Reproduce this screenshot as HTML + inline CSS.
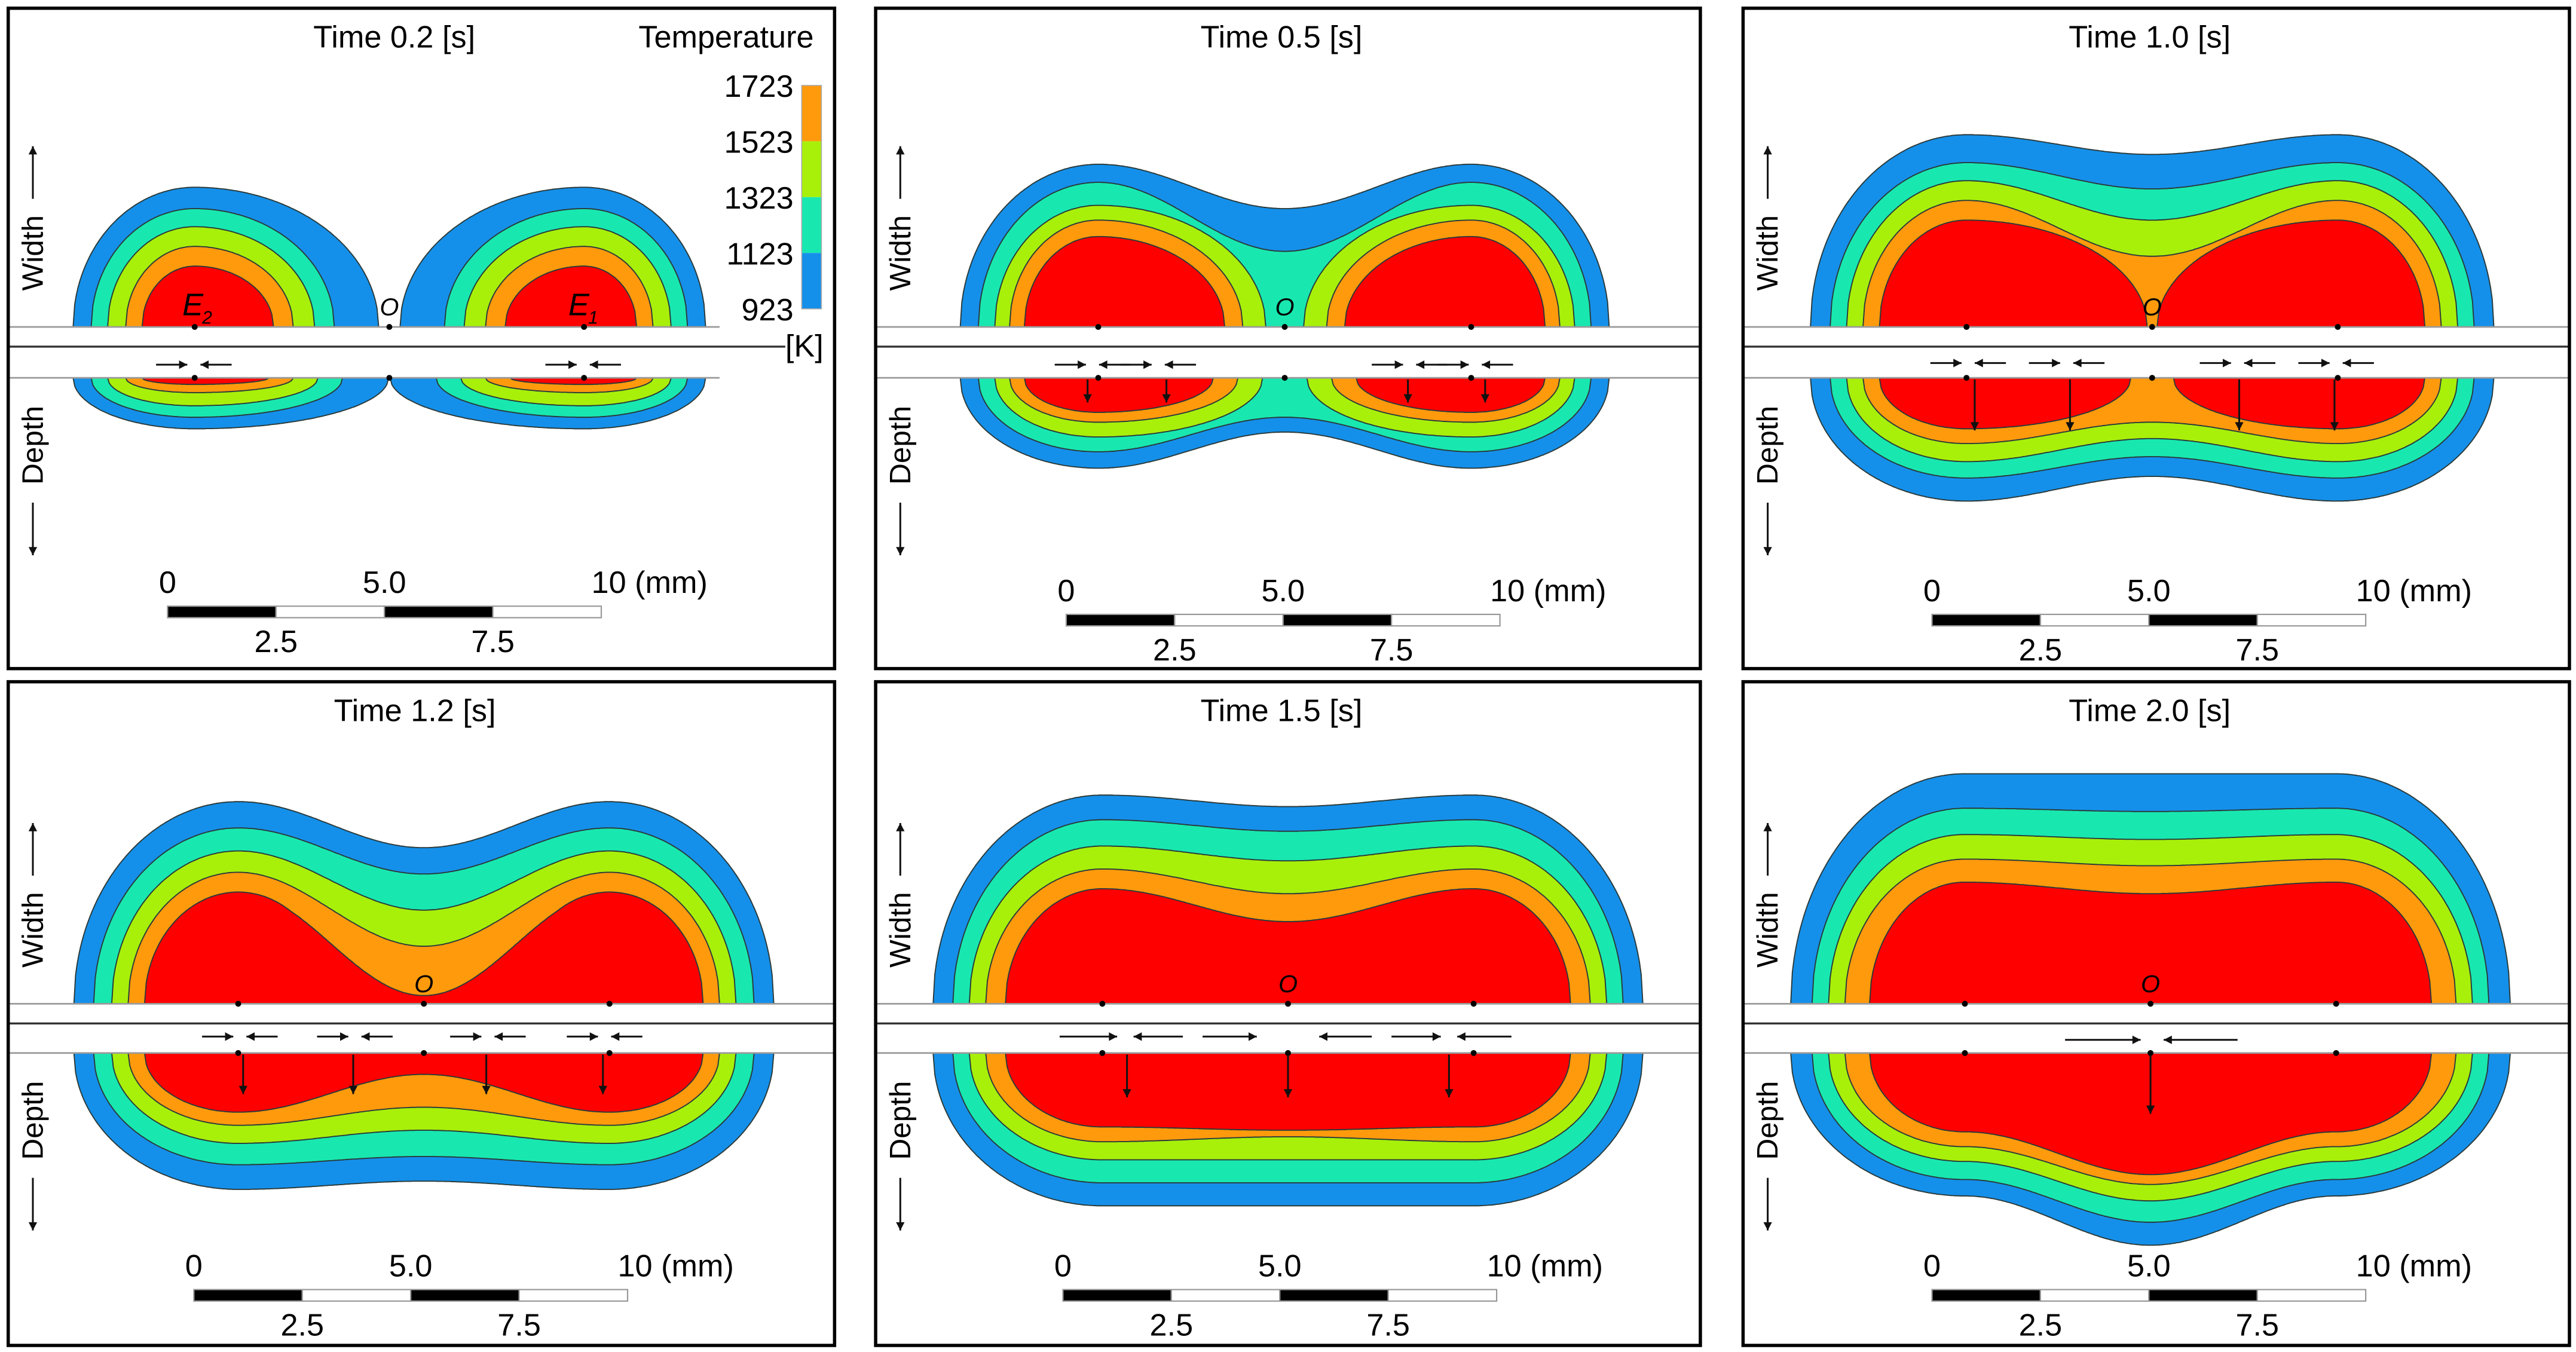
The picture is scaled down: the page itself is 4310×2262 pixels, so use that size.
<!DOCTYPE html>
<html><head><meta charset="utf-8"><style>
html,body{margin:0;padding:0;background:#fff;}
svg{display:block;font-family:"Liberation Sans",sans-serif;}
</style></head><body>
<svg id="fig" width="4310" height="2262" viewBox="0 0 1568 823" preserveAspectRatio="none" xmlns="http://www.w3.org/2000/svg"></svg>
<script>
// ---- data ----
const times = ["0.2","0.5","1.0","1.2","1.5","2.0"];
const levelTicks = ["1723","1523","1323","1123","923"];
const layerColors = ["#1590ea","#18e8b0","#a8f00a","#ff9a0c","#ff0000"];
// [outer reach a, height at electrode b, height at centre mid, inner reach ai (optional)]  (blue, cyan, green, orange, red)
const widthP1 = [[74,85,0,112],[63,72,-30,85],[53,61,-50,73],[42,49,-70,60],[32,37,-90,48]];
const widthP2 = [[84,99,72],[73,88,46],[63,74,-20,102],[54,65,-50,88],[45,55,-80,77]];
const widthP3 = [[95,117,105],[83,100,84],[73,89,65],[63,77,43],[53,65,-5,110]];
const widthP4 = [[100,123,95],[88,107,79],[77,93,57],[67,80,35],[57,68,5]];
const widthP5 = [[103,127,120],[91,112,105],[81,96,87],[71,82,67],[59,70,50]];
const widthP6 = [[106,140,140],[93,119,117],[83,103,100],[73,88,84],[58,74,67]];
const depthP1 = [[74,31,0,118],[63,24,-20,90],[53,17,-30,75],[42,9,-40,60],[32,4,-50,45]];
const depthP2 = [[84,55,33],[73,45,24],[63,36,-10,100],[54,27,-20,85],[45,21,-40,70]];
const depthP3 = [[95,75,60],[83,61,48],[73,51,37],[63,40,27],[53,31,-10,100]];
const depthP4 = [[100,83,78],[88,68,63],[77,55,47],[67,44,33],[57,36,13]];
const depthP5 = [[103,93,93],[91,79,79],[81,65,65],[71,54,51],[59,45,47]];
const depthP6 = [[106,87,117],[93,77,103],[83,66,90],[73,57,80],[58,48,74]];
const widthData = [widthP1,widthP2,widthP3,widthP4,widthP5,widthP6];
const depthData = [depthP1,depthP2,depthP3,depthP4,depthP5,depthP6];
const scaleLabels = ["0","5.0","10 (mm)"];
const scaleLabelsLow = ["2.5","7.5"];

// ---- layout ----
const NS="http://www.w3.org/2000/svg";
const svg=document.getElementById('fig');
const panels=[
 {x:5,y:5,w:503,h:402,O:237,d:118.5,ts:199,tm:211,tb:230,gy:222,bar:[102,369]},
 {x:533,y:5,w:502,h:402,O:782,d:113.5,ts:199,tm:211,tb:230,gy:222,bar:[649,374]},
 {x:1061,y:5,w:503,h:402,O:1310,d:113,ts:199,tm:211,tb:230,gy:221,bar:[1176,374]},
 {x:5,y:415,w:503,h:404,O:258,d:113,ts:611,tm:623,tb:641,gy:631,bar:[118,785]},
 {x:533,y:415,w:502,h:404,O:784,d:113,ts:611,tm:623,tb:641,gy:631,bar:[647,785]},
 {x:1061,y:415,w:503,h:404,O:1309,d:113,ts:611,tm:623,tb:641,gy:633,bar:[1176,785]}
];
const arrowsPairs=[[117,354],[664,704,857,897],[1197,1257,1361,1421],[145,215,296,367],[],[]];
const downArrows=[[],[[662,245],[710,245],[857,245],[904,245]],[[1202,262],[1260,262],[1363,262],[1421,262]],
 [[148,666],[215,666],[296,666],[367,666]],[[686,668],[784,668],[882,668]],[[1309,678]]];

function el(tag,attrs,parent){const e=document.createElementNS(NS,tag);for(const k in attrs)e.setAttribute(k,attrs[k]);(parent||svg).appendChild(e);return e;}
function hAt(x,p,L){const u=Math.abs(x-p.O);const a=L[0],b=L[1],mid=L[2];const ai=L[3]||(mid>0?a:a*1.5);let h=0;
 if(u>=p.d){const s=(u-p.d)/a;h=s<1?b*Math.sqrt(1-s*s):0;}
 else{const s=(p.d-u)/ai;const ell=s<1?b*Math.sqrt(1-s*s):0;let br=0;
  if(mid>0){const t=u/p.d;br=mid+(b-mid)*(1-Math.cos(Math.PI*t))/2;}
  h=Math.max(ell,br);}
 return Math.max(0,h);}
function contourPath(p,L,ys,dir){const x0=p.O-p.d-L[0],x1=p.O+p.d+L[0];let s=`M${x0.toFixed(1)},${ys}`;
 for(let x=x0;x<=x1;x+=1){s+=` L${x.toFixed(1)},${(ys+dir*hAt(x,p,L)).toFixed(1)}`;}
 s+=` L${x1.toFixed(1)},${ys} Z`;return s;}
function arrow(x1,y1,x2,y2,g){el('line',{x1,y1,x2,y2,stroke:'#111','stroke-width':1.1},g);
 const ang=Math.atan2(y2-y1,x2-x1),L=5,W=2.6;const ax=x2-L*Math.cos(ang),ay=y2-L*Math.sin(ang);
 el('polygon',{points:`${x2},${y2} ${ax-W*Math.sin(ang)},${ay+W*Math.cos(ang)} ${ax+W*Math.sin(ang)},${ay-W*Math.cos(ang)}`,fill:'#111'},g);}

panels.forEach((p,i)=>{
 const g=el('g',{});
 
 
 const lineEnd = i===0?438:p.x+p.w;
 [['width',widthData[i],p.ts,-1],['depth',depthData[i],p.tb,1]].forEach(([nm,layers,ys,dir])=>{
  layers.forEach((L,k)=>{
   const path=el('path',{d:contourPath(p,L,ys,dir),fill:layerColors[k],stroke:'#2a3a3a','stroke-width':0.7},g);
   
   
  });
 });
 el('line',{x1:p.x,y1:p.ts,x2:lineEnd,y2:p.ts,stroke:'#9a9a9a','stroke-width':1},g);
 el('line',{x1:p.x,y1:p.tm,x2:i===0?478:p.x+p.w,y2:p.tm,stroke:'#333','stroke-width':1.2},g);
 el('line',{x1:p.x,y1:p.tb,x2:lineEnd,y2:p.tb,stroke:'#9a9a9a','stroke-width':1},g);
 [p.O-p.d,p.O,p.O+p.d].forEach(x=>{el('circle',{cx:x,cy:p.ts,r:1.8,fill:'#000'},g);el('circle',{cx:x,cy:p.tb,r:1.8,fill:'#000'},g);});
 const o=el('text',{x:p.O,y:p.ts-7,'font-size':15,'font-style':'italic','text-anchor':'middle'},g);o.textContent='O';
 
 
 arrowsPairs[i].forEach(x=>{arrow(x-22,p.gy,x-3,p.gy,g);arrow(x+24,p.gy,x+5,p.gy,g);});
 if(i===4){[[645,680],[732,765],[847,877]].forEach(a=>arrow(a[0],p.gy,a[1],p.gy,g));[[720,690],[835,803],[920,887]].forEach(a=>arrow(a[0],p.gy,a[1],p.gy,g));}
 if(i===5){arrow(1257,p.gy,1303,p.gy,g);arrow(1362,p.gy,1317,p.gy,g);}
 downArrows[i].forEach(([x,y])=>arrow(x,p.tb+1,x,y,g));
 const fr=el('rect',{x:p.x,y:p.y,width:p.w,height:p.h,fill:'none',stroke:'#000','stroke-width':2},g);
 
 
 const t=el('text',{x:(i===0?240:p.x+p.w/2-4),y:p.y+24,'font-size':19,'text-anchor':'middle'},g);t.textContent='Time '+times[i]+' [s]';
 
 
 const ax=p.x+15;
 const wl=el('text',{x:0,y:0,'font-size':18,'text-anchor':'middle',transform:`translate(${ax+6},${p.ts-45}) rotate(-90)`},g);wl.textContent='Width';
 
 
 arrow(ax,p.ts-78,ax,p.ts-110,g);
 const dl=el('text',{x:0,y:0,'font-size':18,'text-anchor':'middle',transform:`translate(${ax+6},${p.tb+41}) rotate(-90)`},g);dl.textContent='Depth';
 
 
 arrow(ax,p.tb+76,ax,p.tb+108,g);
 const [bx,by]=p.bar;const seg=66;
 const sb=el('g',{},g);
 
 
 for(let s=0;s<4;s++)el('rect',{x:bx+s*seg,y:by,width:seg,height:7,fill:s%2?'#fff':'#000',stroke:'#999','stroke-width':0.8},sb);
 scaleLabels.forEach((lb,j)=>{const tx=el('text',{x:bx+j*132-(j===2?6:0),y:by-8,'font-size':19,'text-anchor':j===2?'start':'middle'},sb);tx.textContent=lb;});
 scaleLabelsLow.forEach((lb,j)=>{const tx=el('text',{x:bx+66+j*132,y:by+28,'font-size':19,'text-anchor':'middle'},sb);tx.textContent=lb;});
});

[[117,'E','2'],[352,'E','1']].forEach(([x,a,b])=>{const t=el('text',{x:x-6,y:192,'font-size':19,'font-style':'italic'});t.textContent=a;
 
 
 const s=el('text',{x:x+6,y:197,'font-size':11,'font-style':'italic'});s.textContent=b;});

const lg=el('g',{});


const lt=el('text',{x:442,y:29,'font-size':19,'text-anchor':'middle'},lg);lt.textContent='Temperature';
const legendCols=["#ff9a0c","#a8f00a","#18e8b0","#1590ea"];
legendCols.forEach((c,k)=>{const r=el('rect',{x:488,y:52+k*34,width:12,height:34,fill:c},lg);
 
 });
el('rect',{x:488,y:52,width:12,height:136,fill:'none',stroke:'#aaa','stroke-width':0.6},lg);
levelTicks.forEach((lb,k)=>{const t=el('text',{x:483,y:59+k*34,'font-size':19,'text-anchor':'end'},lg);t.textContent=lb;});
const kt=el('text',{x:478,y:217,'font-size':19},lg);kt.textContent='[K]';
</script>
</body></html>
